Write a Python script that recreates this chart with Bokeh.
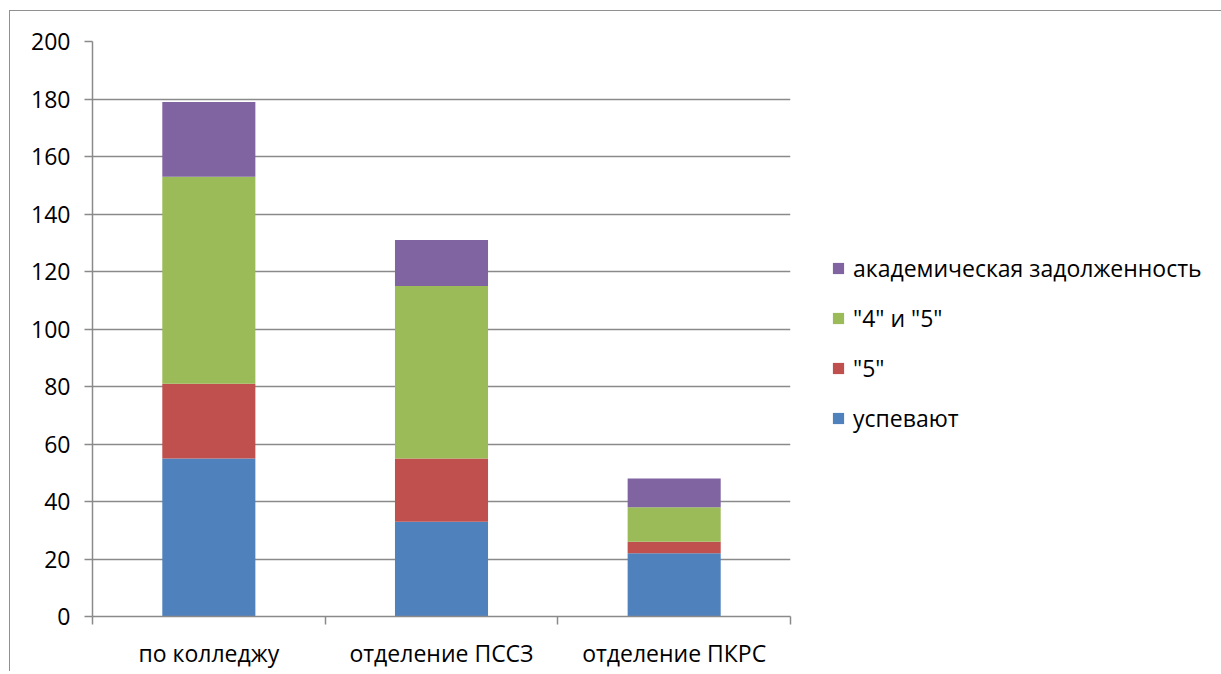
from bokeh.plotting import figure
from bokeh.models import FixedTicker, Legend, LegendItem, Range1d
from bokeh.embed import file_html
from bokeh.resources import INLINE

categories = ["по колледжу", "отделение ПССЗ", "отделение ПКРС"]
uspevayut = [55, 33, 22]
five = [26, 22, 4]
four_five = [72, 60, 12]
debt = [26, 16, 10]
series_names = ["успевают", '"5"', '"4" и "5"', "академическая задолженность"]
colors = ["#4F81BD", "#C0504D", "#9BBB59", "#8064A2"]
y_ticks = list(range(0, 201, 20))

FONT = "Open Sans"
GRID = "#8a8a8a"

x = [i + 0.5 for i in range(len(categories))]
data = dict(x=x, s0=uspevayut, s1=five, s2=four_five, s3=debt)

p = figure(width=1205, height=658, output_backend="svg", toolbar_location=None,
           x_range=Range1d(0, len(categories)), y_range=Range1d(0, 200),
           frame_width=698, frame_height=575,
           min_border_left=82, min_border_right=425, min_border_top=30, min_border_bottom=53)
p.styles = {"margin-left": "9px", "margin-top": "10px",
            "border-left": "1px solid #909090", "border-top": "1px solid #909090"}

renderers = p.vbar_stack(["s0", "s1", "s2", "s3"], x="x", width=0.4, color=colors,
                         line_color=None, source=data)

p.outline_line_color = None
p.xgrid.grid_line_color = None
p.ygrid.ticker = FixedTicker(ticks=y_ticks)
p.ygrid.grid_line_color = GRID
p.ygrid.grid_line_width = 1.5

# y axis
p.yaxis.ticker = FixedTicker(ticks=y_ticks)
p.yaxis.axis_line_color = GRID
p.yaxis.axis_line_width = 1.5
p.yaxis.major_tick_line_color = GRID
p.yaxis.major_tick_line_width = 1.5
p.yaxis.major_tick_out = 8
p.yaxis.major_tick_in = 0
p.yaxis.minor_tick_line_color = None
p.yaxis.major_label_text_font = FONT
p.yaxis.major_label_text_font_size = "23px"
p.yaxis.major_label_text_color = "#000000"
p.yaxis.major_label_standoff = 14

# x axis: labels at centres, tick marks at category boundaries
p.xaxis.ticker = FixedTicker(ticks=x, minor_ticks=list(range(len(categories) + 1)))
p.xaxis.major_label_overrides = {xx: c for xx, c in zip(x, categories)}
p.xaxis.axis_line_color = GRID
p.xaxis.axis_line_width = 1.5
p.xaxis.major_tick_line_color = None
p.xaxis.major_tick_out = 8
p.xaxis.minor_tick_line_color = GRID
p.xaxis.minor_tick_line_width = 1.5
p.xaxis.minor_tick_out = 8
p.xaxis.minor_tick_in = 0
p.xaxis.major_label_text_font = FONT
p.xaxis.major_label_text_font_size = "23px"
p.xaxis.major_label_text_color = "#000000"
p.xaxis.major_label_standoff = 12

items = [LegendItem(label=series_names[i], renderers=[renderers[i]]) for i in [3, 2, 1, 0]]
legend = Legend(items=items, location=(41, 182), orientation="vertical",
                glyph_width=14, glyph_height=14, label_height=20, spacing=18,
                padding=0, margin=0, border_line_color=None, background_fill_alpha=0,
                label_text_font=FONT, label_text_font_size="23px", label_text_color="#000000",
                label_standoff=8)
p.add_layout(legend, "right")

open("out.html", "w").write(file_html(p, INLINE))
